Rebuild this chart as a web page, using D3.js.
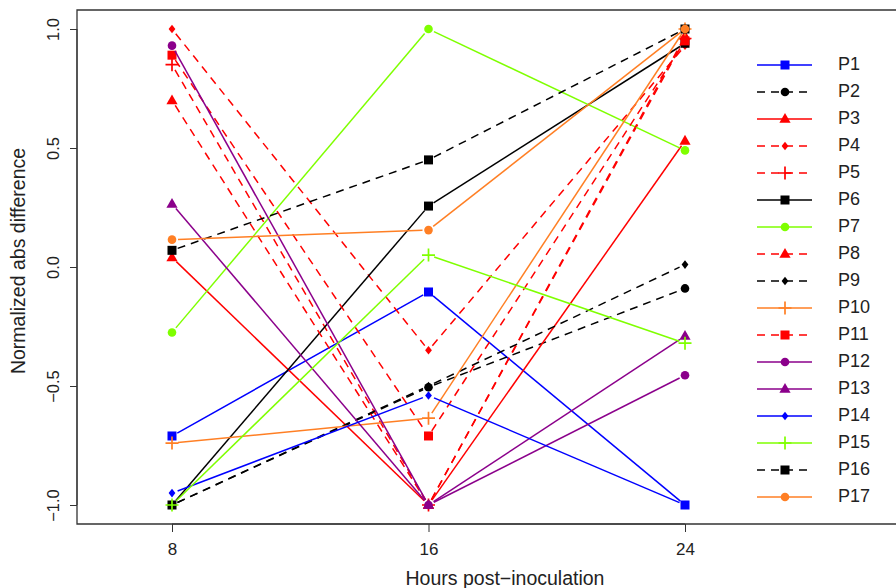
<!DOCTYPE html>
<html>
<head>
<meta charset="utf-8">
<script src="https://cdn.jsdelivr.net/npm/d3@7"></script>
<style>
  body { margin: 0; background: #fff; }
  svg { font-family: "Liberation Sans", Arial, sans-serif; }
</style>
</head>
<body>
<svg id="drawing_region"></svg>
<script>
// hours post-inoculation
const hours = [8, 16, 24];
const names = ["P1","P2","P3","P4","P5","P6","P7","P8","P9","P10","P11","P12","P13","P14","P15","P16","P17"];
const values = [
  [-0.71, -0.105, -1.0],   // P1
  [-1.0, -0.505, -0.09],   // P2
  [0.04, -1.0, 0.53],      // P3
  [1.0, -0.35, 0.93],      // P4
  [0.85, -1.0, 0.96],      // P5
  [-1.0, 0.256, 0.94],     // P6
  [-0.275, 1.0, 0.49],     // P7
  [0.70, -1.0, 0.97],      // P8
  [-1.0, -0.50, 0.01],     // P9
  [-0.74, -0.635, 1.0],    // P10
  [0.89, -0.71, 0.95],     // P11
  [0.93, -1.0, -0.455],    // P12
  [0.265, -1.0, -0.29],    // P13
  [-0.95, -0.54, -1.0],    // P14
  [-1.0, 0.05, -0.32],     // P15
  [0.07, 0.45, 1.0],       // P16
  [0.115, 0.155, 1.0]      // P17
];
const colors = ["#0000FF","#000000","#FF0000","#FF0000","#FF0000","#000000","#7FFF00","#FF0000","#000000",
  "#FF7F24","#FF0000","#8B008B","#8B008B","#0000FF","#7FFF00","#000000","#FF7F24"];
const dashed = [false,true,false,true,true,false,false,true,true,false,true,false,false,false,false,true,false];
const shapes = ["square","circle","triangle","diamond","plus","square","circle","triangle","diamond","plus",
  "square","circle","triangle","diamond","plus","square","circle"];
const xTicks = [8, 16, 24];
const yTicks = [-1.0, -0.5, 0.0, 0.5, 1.0];

const W = 896, H = 588;
const svg = d3.select('#drawing_region').attr('width', W).attr('height', H);

const x = d3.scaleLinear().domain([8, 24]).range([172, 685]);
const y = d3.scaleLinear().domain([-1, 1]).range([505, 29]);
const box = {left: 77, top: 10, right: 940, bottom: 524};

// plot box
svg.append('path')
  .attr('d', `M${box.right},${box.top}H${box.left}V${box.bottom}H${box.right}`)
  .attr('fill', 'none').attr('stroke', '#333').attr('stroke-width', 1.3);

// axes
const xAxis = svg.append('g').attr('transform', `translate(0,${box.bottom})`)
  .call(d3.axisBottom(x).tickValues(xTicks).tickSize(8).tickPadding(11).tickFormat(d3.format('d')));
xAxis.select('.domain').attr('d', `M${x(8)},0H${x(24)}`).attr('stroke', '#333');
xAxis.selectAll('.tick line').attr('stroke', '#333');
xAxis.selectAll('text').style('font-size', '17px').attr('fill', '#222')
  .style('font-family', '"Liberation Sans", Arial, sans-serif');

const yAxis = svg.append('g').attr('transform', `translate(${box.left},0)`)
  .call(d3.axisLeft(y).tickValues(yTicks).tickSize(7).tickFormat(d3.format('.1f')));
yAxis.select('.domain').attr('d', `M0,${y(-1)}V${y(1)}`).attr('stroke', '#333');
yAxis.selectAll('.tick line').attr('stroke', '#333');
yAxis.selectAll('text')
  .attr('x', 0).attr('dy', 0)
  .attr('transform', 'translate(-22,0) rotate(-90)')
  .attr('text-anchor', 'middle').attr('dominant-baseline', 'middle')
  .style('font-size', '16.5px').attr('fill', '#222')
  .text(d => d3.format('.1f')(d).replace('-', '\u2212'))
  .style('font-family', '"Liberation Sans", Arial, sans-serif');

svg.append('text')
  .attr('transform', `translate(20,${(y(1) + y(-1)) / 2 - 6}) rotate(-90)`)
  .attr('text-anchor', 'middle').attr('dominant-baseline', 'middle')
  .style('font-size', '19.5px').attr('fill', '#222')
  .text('Normalized abs difference');

svg.append('text')
  .attr('x', 505).attr('y', 585)
  .attr('text-anchor', 'middle')
  .style('font-size', '19.5px').attr('fill', '#222')
  .text('Hours post\u2212inoculation');

// marker drawing
function marker(g, shape, color, cx, cy) {
  if (shape === 'square') {
    g.append('rect').attr('x', cx - 4.5).attr('y', cy - 4.5).attr('width', 9).attr('height', 9).attr('fill', color);
  } else if (shape === 'circle') {
    g.append('circle').attr('cx', cx).attr('cy', cy).attr('r', 4.3).attr('fill', color);
  } else if (shape === 'triangle') {
    g.append('path').attr('d', `M${cx},${cy - 6}L${cx + 5.6},${cy + 3.8}L${cx - 5.6},${cy + 3.8}Z`).attr('fill', color);
  } else if (shape === 'diamond') {
    g.append('path').attr('d', `M${cx},${cy - 4.3}L${cx + 3.4},${cy}L${cx},${cy + 4.3}L${cx - 3.4},${cy}Z`).attr('fill', color);
  } else if (shape === 'plus') {
    g.append('path').attr('d', `M${cx - 6.5},${cy}H${cx + 6.5}M${cx},${cy - 6.5}V${cy + 6.5}`)
      .attr('stroke', color).attr('stroke-width', 1.7).attr('fill', 'none');
  }
}

// series: lines with gaps at points (type = "b"), then points
const gap = 6;
const plot = svg.append('g');
values.forEach((vals, i) => {
  const g = plot.append('g');
  const pts = vals.map((v, j) => [x(hours[j]), y(v)]);
  for (let j = 0; j < pts.length - 1; j++) {
    const [x0, y0] = pts[j], [x1, y1] = pts[j + 1];
    const len = Math.hypot(x1 - x0, y1 - y0);
    if (len <= 2 * gap) continue;
    const ux = (x1 - x0) / len, uy = (y1 - y0) / len;
    g.append('line')
      .attr('x1', x0 + ux * gap).attr('y1', y0 + uy * gap)
      .attr('x2', x1 - ux * gap).attr('y2', y1 - uy * gap)
      .attr('stroke', colors[i]).attr('stroke-width', 1.5)
      .attr('stroke-dasharray', dashed[i] ? '8,6' : null);
  }
  pts.forEach(p => marker(g, shapes[i], colors[i], p[0], p[1]));
});

// legend
const legend = svg.append('g');
names.forEach((name, i) => {
  const ly = 65 + i * 27;
  legend.append('line')
    .attr('x1', 757).attr('x2', 812).attr('y1', ly).attr('y2', ly)
    .attr('stroke', colors[i]).attr('stroke-width', 1.5)
    .attr('stroke-dasharray', dashed[i] ? '8,6' : null);
  marker(legend, shapes[i], colors[i], 785, ly);
  legend.append('text')
    .attr('x', 838).attr('y', ly).attr('dominant-baseline', 'middle')
    .style('font-size', '18px').attr('fill', '#222')
    .text(name);
});
</script>
</body>
</html>
